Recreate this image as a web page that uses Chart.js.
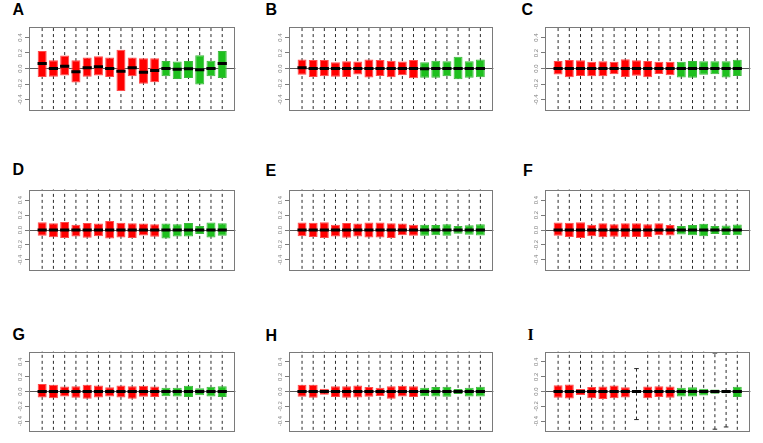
<!DOCTYPE html>
<html><head><meta charset="utf-8">
<script src="https://cdn.jsdelivr.net/npm/chart.js@4/dist/chart.umd.min.js"></script>
<style>
html,body{margin:0;padding:0;background:#fff;width:763px;height:443px;overflow:hidden;position:relative}
.lab{position:absolute;font:bold 16px "Liberation Sans",Arial,sans-serif;line-height:16px;color:#000;white-space:nowrap}
.lab.serif{font-family:"Liberation Serif","DejaVu Serif",serif}
canvas{position:absolute}
</style></head><body>
<script>
// ---------- data ----------
const POSITIONS = [1,2,3,4,5,6,7,8,9,10,11,12,13,14,15,16,17];
const GROUPS = ['case','case','case','case','case','case','case','case','case','case','case',
                'control','control','control','control','control','control'];
const TICK_VALUES = [-0.4,-0.2,0,0.2,0.4];
const TICK_LABELS = ['-0.4','-0.2','0.0','0.2','0.4'];
const PANEL_NAMES = ['A','B','C','D','E','F','G','H','I'];

// whiskers that run past the plotted range (estimated)
const OPEN_LO = [-0.6,-0.6,-0.6,-0.6,-0.6,-0.6,-0.6,-0.6,-0.6,-0.6,-0.6,-0.6,-0.6,-0.6,-0.6,-0.6,-0.6];
const OPEN_HI = [0.6,0.6,0.6,0.6,0.6,0.6,0.6,0.6,0.6,0.6,0.6,0.6,0.6,0.6,0.6,0.6,0.6];
const FLAT_MED = [0,0,0,0,0,0,0,0,0,0,0,0,0,0,0,0,0];

const A_q3 = [0.224,0.105,0.168,0.105,0.142,0.157,0.142,0.243,0.142,0.131,0.131,0.097,0.09,0.097,0.172,0.1,0.224];
const A_q1 = [-0.108,-0.105,-0.09,-0.18,-0.105,-0.09,-0.108,-0.29,-0.1,-0.198,-0.176,-0.1,-0.135,-0.123,-0.206,-0.1,-0.123];
const A_med = [0.064,0,0.03,-0.041,0.011,0.022,0,-0.037,0.011,-0.049,-0.026,0,-0.011,-0.004,-0.015,0,0.064];

const B_q3 = [0.116,0.108,0.108,0.082,0.093,0.09,0.116,0.108,0.1,0.09,0.108,0.082,0.1,0.093,0.153,0.093,0.116];
const B_q1 = [-0.082,-0.108,-0.1,-0.105,-0.108,-0.078,-0.116,-0.097,-0.112,-0.086,-0.127,-0.12,-0.12,-0.1,-0.138,-0.12,-0.112];
const B_med = [0.011,0,0,0,0,0,0,0,0,0,0,-0.004,0,0,0,0,0];

const C_q3 = [0.097,0.108,0.105,0.086,0.093,0.086,0.12,0.105,0.097,0.086,0.086,0.086,0.097,0.093,0.093,0.093,0.112];
const C_q1 = [-0.078,-0.112,-0.097,-0.1,-0.1,-0.075,-0.108,-0.093,-0.112,-0.071,-0.086,-0.116,-0.12,-0.082,-0.075,-0.116,-0.097];

const D_q3 = [0.105,0.09,0.108,0.071,0.093,0.086,0.12,0.097,0.09,0.086,0.078,0.086,0.078,0.093,0.052,0.1,0.09];
const D_q1 = [-0.078,-0.097,-0.108,-0.086,-0.105,-0.082,-0.112,-0.1,-0.108,-0.075,-0.09,-0.112,-0.086,-0.086,-0.052,-0.1,-0.078];

const E_q3 = [0.1,0.097,0.105,0.071,0.093,0.086,0.1,0.1,0.09,0.086,0.071,0.071,0.067,0.078,0.052,0.064,0.078];
const E_q1 = [-0.082,-0.093,-0.108,-0.086,-0.105,-0.086,-0.1,-0.1,-0.108,-0.071,-0.078,-0.078,-0.071,-0.078,-0.049,-0.064,-0.075];

const F_q3 = [0.1,0.097,0.105,0.071,0.09,0.078,0.09,0.09,0.078,0.09,0.067,0.052,0.067,0.082,0.052,0.06,0.075];
const F_q1 = [-0.078,-0.093,-0.108,-0.082,-0.097,-0.09,-0.097,-0.093,-0.093,-0.071,-0.075,-0.06,-0.071,-0.082,-0.052,-0.067,-0.071];

const G_q3 = [0.1,0.093,0.067,0.071,0.09,0.082,0.056,0.082,0.071,0.078,0.067,0.052,0.052,0.078,0.045,0.064,0.071];
const G_q1 = [-0.082,-0.09,-0.067,-0.086,-0.097,-0.082,-0.067,-0.082,-0.097,-0.071,-0.075,-0.064,-0.067,-0.075,-0.052,-0.067,-0.075];

const H_q3 = [0.09,0.093,0.037,0.071,0.071,0.082,0.06,0.052,0.071,0.078,0.071,0.052,0.06,0.064,0.034,0.052,0.064];
const H_q1 = [-0.071,-0.086,-0.045,-0.075,-0.086,-0.082,-0.071,-0.06,-0.097,-0.067,-0.075,-0.064,-0.067,-0.071,-0.034,-0.067,-0.067];

const I_q3 = [0.084,0.095,0.034,0.061,0.069,0.08,0.057,0.019,0.069,0.072,0.069,0.05,0.057,0.038,0.027,0.019,0.065];
const I_q1 = [-0.084,-0.095,-0.046,-0.092,-0.1,-0.092,-0.08,-0.015,-0.092,-0.076,-0.084,-0.069,-0.069,-0.053,-0.031,-0.023,-0.073];
const I_lo = [-0.6,-0.6,-0.6,-0.6,-0.6,-0.6,-0.6,-0.38,-0.6,-0.6,-0.6,-0.6,-0.6,-0.6,-0.51,-0.48,-0.6];
const I_hi = [0.6,0.6,0.6,0.6,0.6,0.6,0.6,0.31,0.6,0.6,0.6,0.6,0.6,0.6,0.52,0.6,0.6];

const PANEL_DATA = {
  A:{q1:A_q1,q3:A_q3,med:A_med,lo:OPEN_LO,hi:OPEN_HI},
  B:{q1:B_q1,q3:B_q3,med:B_med,lo:OPEN_LO,hi:OPEN_HI},
  C:{q1:C_q1,q3:C_q3,med:FLAT_MED,lo:OPEN_LO,hi:OPEN_HI},
  D:{q1:D_q1,q3:D_q3,med:FLAT_MED,lo:OPEN_LO,hi:OPEN_HI},
  E:{q1:E_q1,q3:E_q3,med:FLAT_MED,lo:OPEN_LO,hi:OPEN_HI},
  F:{q1:F_q1,q3:F_q3,med:FLAT_MED,lo:OPEN_LO,hi:OPEN_HI},
  G:{q1:G_q1,q3:G_q3,med:FLAT_MED,lo:OPEN_LO,hi:OPEN_HI},
  H:{q1:H_q1,q3:H_q3,med:FLAT_MED,lo:OPEN_LO,hi:OPEN_HI},
  I:{q1:I_q1,q3:I_q3,med:FLAT_MED,lo:I_lo,hi:I_hi}
};

// ---------- layout / style ----------
const LAYOUT = {
  A:{L:29, T:20, W:213,H:97, lx:12.5, ly:1.5},
  B:{L:289,T:20, W:211,H:97, lx:265.5,ly:1.5},
  C:{L:545,T:20, W:212,H:97, lx:521.5,ly:1.5},
  D:{L:29, T:183,W:213,H:94, lx:12.5, ly:161.5},
  E:{L:289,T:183,W:211,H:94, lx:265.5,ly:162.5},
  F:{L:545,T:183,W:212,H:94, lx:523,  ly:162.5},
  G:{L:29, T:345,W:213,H:93, lx:12.5, ly:327},
  H:{L:289,T:345,W:211,H:93, lx:265.5,ly:327.5},
  I:{L:545,T:345,W:212,H:93, lx:527.5,ly:327}
};
const FILL = {case:'#FF0000', control:'#1EC01E'};
const EDGE = {case:'#FF4A4A', control:'#3CB83C'};
const AXIS_GAP = 20;

const framePlugin = {
  id:'frame',
  afterDraw(chart){
    const a = chart.chartArea, ctx = chart.ctx, y = chart.scales.y;
    ctx.save();
    ctx.strokeStyle = '#7a7a7a'; ctx.lineWidth = 1;
    ctx.strokeRect(Math.round(a.left)+0.5, Math.round(a.top)+0.5, Math.round(a.right-a.left)-1, Math.round(a.bottom-a.top)-1);
    ctx.font = '6px "Liberation Sans", Arial, sans-serif';
    ctx.fillStyle = '#808080'; ctx.textAlign = 'center'; ctx.textBaseline = 'middle';
    TICK_VALUES.forEach((v,i)=>{
      const py = y.getPixelForValue(v);
      ctx.save(); ctx.translate(a.left-9, py); ctx.rotate(-Math.PI/2);
      ctx.fillText(TICK_LABELS[i], 0, 0); ctx.restore();
    });
    ctx.restore();
  }
};

function makePanel(name){
  const lay = LAYOUT[name], d = PANEL_DATA[name];
  const lab = document.createElement('div');
  lab.className = 'lab' + (name==='I' ? ' serif' : '');
  lab.textContent = name;
  lab.style.left = lay.lx+'px'; lab.style.top = lay.ly+'px';
  document.body.appendChild(lab);

  const cv = document.createElement('canvas');
  const cw = lay.W + AXIS_GAP + 2, ch = lay.H + 2;
  cv.width = cw; cv.height = ch;
  cv.style.width = cw+'px'; cv.style.height = ch+'px';
  cv.style.left = (lay.L - AXIS_GAP - 1)+'px'; cv.style.top = (lay.T - 1)+'px';
  document.body.appendChild(cv);

  const boxes = POSITIONS.map((x,i)=>({x, y:[d.q1[i], d.q3[i]]}));
  const meds = POSITIONS.map((x,i)=>({x, y:d.med[i]}));
  const whisk = [];
  POSITIONS.forEach((x,i)=>{ whisk.push({x,y:d.lo[i]},{x,y:d.hi[i]},{x,y:null}); });
  const caps = [];
  POSITIONS.forEach((x,i)=>{ caps.push({x,y:d.lo[i]},{x,y:d.hi[i]}); });

  new Chart(cv, {
    type:'bar',
    data:{datasets:[
      {type:'scatter', data:meds, pointStyle:'line', pointRadius:4.6, pointBorderWidth:3,
       pointBorderColor:'#000', pointBackgroundColor:'#000', order:0, clip:0},
      {type:'bar', data:boxes, backgroundColor:GROUPS.map(g=>FILL[g]), borderColor:GROUPS.map(g=>EDGE[g]),
       borderWidth:1, borderSkipped:false, barPercentage:0.8, categoryPercentage:1, order:1},
      {type:'scatter', data:caps, pointStyle:'line', pointRadius:2.3, pointBorderWidth:1,
       pointBorderColor:'#222', order:2, clip:0},
      {type:'line', data:whisk, borderColor:'#2a2a2a', borderWidth:1, borderDash:[3,3],
       pointRadius:0, spanGaps:false, tension:0, order:3, clip:0}
    ]},
    options:{
      responsive:false, animation:false, events:[],
      layout:{padding:{left:1,right:1,top:1,bottom:1}},
      plugins:{legend:{display:false}, tooltip:{enabled:false}},
      scales:{
        x:{type:'linear', min:-0.17, max:18.17, display:false, offset:false, grace:0,
           grid:{offset:false},
           afterBuildTicks:(s)=>{ s.ticks = POSITIONS.map(v=>({value:v})); }},
        y:{type:'linear', min:-0.54, max:0.54,
           afterBuildTicks:(s)=>{ s.ticks = TICK_VALUES.map(v=>({value:v})); },
           afterFit:(s)=>{ s.width = AXIS_GAP; },
           ticks:{display:false},
           border:{display:false},
           grid:{drawTicks:true, tickLength:4, tickColor:'#7a7a7a', lineWidth:1,
                 color:(c)=> (c.tick && c.tick.value===0) ? '#555' : 'rgba(0,0,0,0)'}}
      }
    },
    plugins:[framePlugin]
  });
}
PANEL_NAMES.forEach(makePanel);
</script>
</body></html>
